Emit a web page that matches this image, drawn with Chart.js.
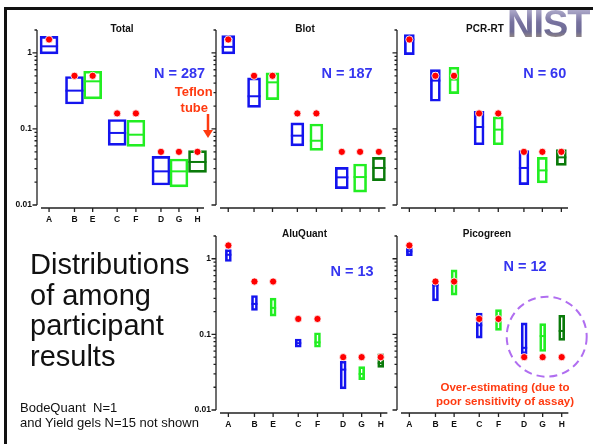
<!DOCTYPE html>
<html><head><meta charset="utf-8">
<script src="https://cdn.jsdelivr.net/npm/chart.js@4/dist/chart.umd.min.js"></script>
<style>
html,body{margin:0;padding:0;background:#fff;}
body{width:593px;height:444px;position:relative;overflow:hidden;font-family:"Liberation Sans",Arial,sans-serif;}
canvas{position:absolute;}
.t{position:absolute;transform:translate(-50%,-50%);white-space:nowrap;line-height:1;font-weight:bold;z-index:5;}
.ttl{font-size:10px;color:#111;}
.n{font-size:14.5px;color:#3535f0;}
.red{font-size:13px;color:#ff3a10;}
.red2{font-size:11.5px;color:#ff3a10;}
.big{position:absolute;left:30px;top:249px;font-size:29px;line-height:30.7px;color:#111;white-space:nowrap;}
.note{position:absolute;left:20px;top:400px;font-size:13px;line-height:15px;color:#111;white-space:pre;}
.frameL{position:absolute;left:4px;top:7px;width:2.5px;height:437px;background:#111;}
.frameT{position:absolute;left:4px;top:7px;width:589px;height:2.5px;background:#111;}
.nist{position:absolute;left:507px;top:5px;font-size:38px;line-height:38px;font-weight:bold;letter-spacing:-1px;
 background:linear-gradient(#c4c0dc 0%,#77729f 45%,#6d6a94 70%,#b3a174 100%);-webkit-background-clip:text;background-clip:text;color:transparent;}
svg{position:absolute;left:0;top:0;z-index:4;pointer-events:none;}
</style></head><body>
<div class="frameL"></div><div class="frameT"></div>
<div class="nist">NIST</div>

<canvas id="cTotal" width="213" height="225" style="left:2px;top:0"></canvas>
<canvas id="cBlot" width="213" height="225" style="left:181px;top:0"></canvas>
<canvas id="cPcr" width="213" height="225" style="left:362px;top:0"></canvas>
<canvas id="cAlu" width="213" height="210" style="left:181px;top:220px"></canvas>
<canvas id="cPico" width="213" height="210" style="left:362px;top:220px"></canvas>

<div class="t ttl" style="left:122px;top:28.5px">Total</div>
<div class="t ttl" style="left:305px;top:29px">Blot</div>
<div class="t ttl" style="left:485px;top:29px">PCR-RT</div>
<div class="t ttl" style="left:304.5px;top:234px">AluQuant</div>
<div class="t ttl" style="left:487px;top:233.5px">Picogreen</div>

<div class="t n" style="left:179.5px;top:73px">N = 287</div>
<div class="t n" style="left:347px;top:73px">N = 187</div>
<div class="t n" style="left:544.7px;top:73px">N = 60</div>
<div class="t n" style="left:352px;top:271px">N = 13</div>
<div class="t n" style="left:525px;top:266px">N = 12</div>

<div class="t red" style="left:193.7px;top:91px">Teflon</div>
<div class="t red" style="left:194.3px;top:107px">tube</div>
<div class="t red2" style="left:505px;top:387.5px">Over-estimating (due to</div>
<div class="t red2" style="left:505px;top:402px">poor sensitivity of assay)</div>

<div class="big">Distributions<br>of among<br>participant<br>results</div>
<div class="note">BodeQuant  N=1
and Yield gels N=15 not shown</div>

<svg width="593" height="444" viewBox="0 0 593 444">
  <line x1="208" y1="114" x2="208" y2="131" stroke="#ff3a10" stroke-width="2.5"/>
  <polygon points="203,130 213,130 208,138" fill="#ff3a10"/>
  <circle cx="546.7" cy="336.7" r="40" fill="none" stroke="#b06ef0" stroke-width="2" stroke-dasharray="8 5"/>
</svg>

<script>
// ---------- data ----------
const categories = ['A','B','E','C','F','D','G','H'];
const catPos = [0, 1.37, 2.35, 3.67, 4.68, 6.03, 7.0, 8.0];
const refValues = [1.5, 0.5, 0.5, 0.16, 0.16, 0.05, 0.05, 0.05];

const totalLow  = [0.97, 0.213, 0.248, 0.0608, 0.059, 0.0183, 0.0173, 0.0269];
const totalMed  = [1.22, 0.319, 0.423, 0.0886, 0.084, 0.0277, 0.0277, 0.0368];
const totalHigh = [1.65, 0.49, 0.573, 0.133, 0.130, 0.0436, 0.0403, 0.0518];

const blotLow  = [0.97, 0.192, 0.243, 0.060, 0.0523, 0.0164, 0.0148, 0.0209];
const blotMed  = [1.2, 0.269, 0.41, 0.0816, 0.070, 0.0231, 0.0233, 0.0307];
const blotHigh = [1.69, 0.469, 0.546, 0.12, 0.116, 0.0313, 0.0346, 0.0423];

const pcrLow  = [0.95, 0.231, 0.292, 0.062, 0.062, 0.0185, 0.0195, 0.0332];
const pcrMed  = [1.5, 0.432, 0.445, 0.106, 0.098, 0.0307, 0.0285, 0.0423];
const pcrHigh = [1.74, 0.603, 0.647, 0.171, 0.144, 0.0518, 0.0423, 0.0534];

const aluLow  = [0.92, 0.207, 0.174, 0.0676, 0.0676, 0.019, 0.0252, 0.0367];
const aluMed  = [1.13, 0.253, 0.224, 0.0764, 0.0784, 0.0342, 0.030, 0.0416];
const aluHigh = [1.32, 0.327, 0.301, 0.087, 0.105, 0.0441, 0.0375, 0.0552];

const picoLow  = [1.1, 0.278, 0.331, 0.0894, 0.113, 0.0552, 0.0593, 0.0832];
const picoMed  = [1.25, 0.45, 0.5, 0.132, 0.15, 0.0664, 0.095, 0.111];
const picoHigh = [1.39, 0.46, 0.713, 0.192, 0.213, 0.142, 0.139, 0.179];

const yTickValues = [0.01,0.02,0.03,0.04,0.05,0.06,0.07,0.08,0.09,
                     0.1,0.2,0.3,0.4,0.5,0.6,0.7,0.8,0.9,1,2];
const yMajor = [0.01, 0.1, 1];

// ---------- style ----------
const boxColors = ['#1414ee','#1414ee','#22ee22','#1414ee','#22ee22','#1414ee','#22ee22','#0a7a0a'];
Chart.defaults.font.family = '"Liberation Sans", Arial, sans-serif';

const axisPlugin = {
  id: 'axesDraw',
  beforeDatasetsDraw(chart) {
    const {ctx, chartArea: a, scales: {x, y}} = chart;
    ctx.save();
    ctx.strokeStyle = '#222';
    ctx.lineWidth = 1.3;
    ctx.beginPath();
    const yt = y.getPixelForValue(2), yb = y.getPixelForValue(0.01);
    ctx.moveTo(a.left, yt); ctx.lineTo(a.left, yb);
    y.ticks.forEach(t => {
      const p = y.getPixelForValue(t.value);
      const len = yMajor.includes(t.value) ? 4.5 : 2.5;
      ctx.moveTo(a.left - len, p); ctx.lineTo(a.left, p);
    });
    const xy = a.bottom + 3;
    ctx.moveTo(a.left + 4, xy); ctx.lineTo(a.right, xy);
    x.ticks.forEach(t => {
      const p = x.getPixelForValue(t.value);
      ctx.moveTo(p, xy); ctx.lineTo(p, xy + 4);
    });
    ctx.stroke();
    ctx.restore();
  }
};

function panel(id, low, med, high, boxW, padTop, showX, showY) {
  new Chart(document.getElementById(id), {
    type: 'bar',
    data: {
      datasets: [
        { type: 'scatter', order: 1, clip: false,
          data: categories.map((c, i) => ({x: catPos[i], y: refValues[i]})),
          pointStyle: 'circle', pointRadius: 3.6, pointBackgroundColor: '#ff0000',
          pointBorderColor: '#ffffff', pointBorderWidth: 0.8 },
        { type: 'scatter', order: 2, clip: false,
          data: categories.map((c, i) => ({x: catPos[i], y: med[i]})),
          pointStyle: 'line', pointRadius: boxW / 2, pointBorderColor: boxColors,
          pointBackgroundColor: boxColors, pointBorderWidth: 2 },
        { type: 'bar', order: 3, clip: false,
          data: categories.map((c, i) => ({x: catPos[i], y: [low[i], high[i]]})),
          backgroundColor: 'rgba(0,0,0,0)', borderColor: boxColors, borderWidth: 2,
          borderSkipped: false, barThickness: boxW }
      ]
    },
    options: {
      responsive: false, animation: false, events: [],
      layout: { padding: { top: padTop, right: 6, left: 0, bottom: 0 } },
      plugins: { legend: { display: false }, tooltip: { enabled: false } },
      scales: {
        x: {
          type: 'linear', min: -0.65, max: 8.35, offset: false,
          grid: { display: false, drawTicks: false }, border: { display: false },
          afterBuildTicks: s => { s.ticks = catPos.map(v => ({value: v})); },
          afterFit: s => { s.height = 20; },
          ticks: { autoSkip: false, maxRotation: 0, padding: 10, color: '#111',
                   font: { size: 8.5, weight: 'bold' },
                   callback: v => showX ? categories[catPos.indexOf(v)] : '' }
        },
        y: {
          type: 'logarithmic', min: 0.01, max: 2,
          grid: { display: false, drawTicks: false }, border: { display: false },
          afterBuildTicks: s => { s.ticks = yTickValues.map(v => ({value: v})); },
          afterFit: s => { s.width = 35; },
          ticks: { autoSkip: false, padding: 5, color: '#111',
                   font: { size: 8.5, weight: 'bold' },
                   callback: v => (showY && yMajor.includes(v)) ? String(v) : '' }
        }
      }
    },
    plugins: [axisPlugin]
  });
}

panel('cTotal', totalLow, totalMed, totalHigh, 18, 30, true, true);
panel('cBlot', blotLow, blotMed, blotHigh, 13, 30, false, false);
panel('cPcr', pcrLow, pcrMed, pcrHigh, 10, 30, false, false);
panel('cAlu', aluLow, aluMed, aluHigh, 6, 16, true, true);
panel('cPico', picoLow, picoMed, picoHigh, 6, 16, true, false);
</script>
</body></html>
